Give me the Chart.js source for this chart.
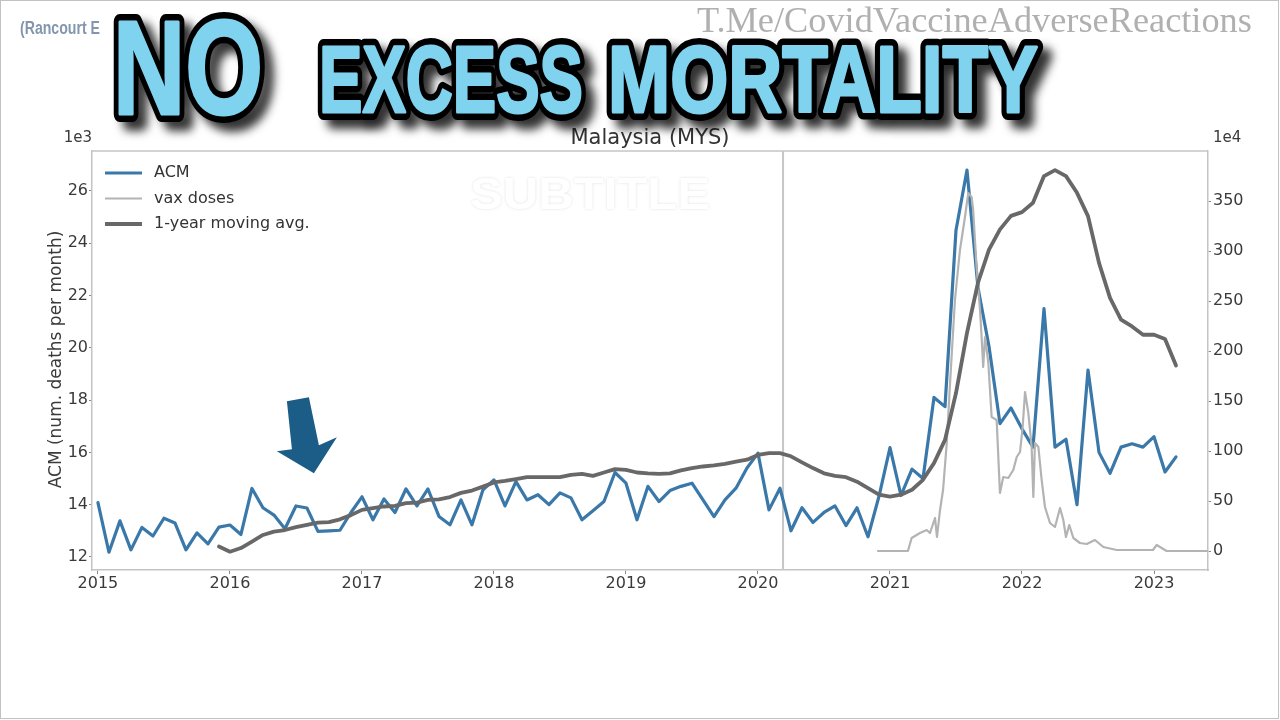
<!DOCTYPE html>
<html>
<head>
<meta charset="utf-8">
<script src="https://cdn.jsdelivr.net/npm/chart.js@4.4.0/dist/chart.umd.min.js"></script>
<style>
  html, body { margin: 0; padding: 0; background: #fff; }
  #wrap { position: relative; width: 1280px; height: 720px; overflow: hidden; }
  #chart, #over { position: absolute; left: 0; top: 0; }
  #frame { position: absolute; left: 0; top: 0; width: 1277px; height: 717px; border: 1.5px solid #c2c2c2; pointer-events: none; }
  .txt { position: absolute; white-space: nowrap; line-height: 1; transform-origin: 0 0; }
  #wm { font-family: "Liberation Serif", "DejaVu Serif", serif; font-size: 35px; color: #b0b0b0; left: 697px; top: 3px; }
  #ranc { font-family: "Liberation Sans", Arial, sans-serif; font-weight: bold; font-size: 18px; color: #8496ad; left: 20px; top: 19px; }
  #sub { font-family: "Liberation Sans", Arial, sans-serif; font-weight: bold; font-size: 44px; color: #fff; left: 470px; top: 172px; text-shadow: 0 0 3px rgba(0,0,0,0.12); }
</style>
</head>
<body>
<div id="wrap">
  <canvas id="chart" width="1280" height="720"></canvas>
  <div id="sub" class="txt">SUBTITLE</div>
  <div id="ranc" class="txt">(Rancourt E</div>
  <div id="wm" class="txt">T.Me/CovidVaccineAdverseReactions</div>
  <canvas id="over" width="1280" height="720"></canvas>
  <div id="frame"></div>
</div>
<script>
// monthly all-cause mortality (thousands), Jan 2015 .. Mar 2023
const acmStartYear = 2015;
const acmValues = [
  14.08, 12.18, 13.38, 12.27, 13.13, 12.8, 13.48, 13.3, 12.27, 12.92, 12.5, 13.14,
  13.22, 12.86, 14.62, 13.88, 13.6, 13.08, 13.95, 13.87, 12.98, 13.0, 13.02, 13.7,
  14.3, 13.42, 14.22, 13.7, 14.6, 13.95, 14.6, 13.55, 13.23, 14.18, 13.23, 14.57,
  14.95, 13.95, 14.88, 14.18, 14.38, 14.0, 14.45, 14.26, 13.42, 13.77, 14.12, 15.23,
  14.82, 13.42, 14.7, 14.12, 14.54, 14.7, 14.82, 14.18, 13.54, 14.18, 14.63, 15.4,
  15.97, 13.8, 14.63, 13.0, 13.88, 13.32, 13.7, 13.95, 13.2, 13.88, 12.77, 14.32,
  16.18, 14.35, 15.36, 15.0, 18.1, 17.75, 24.5, 26.8, 22.3, 20.05, 17.1, 17.7,
  16.9, 16.2, 21.5, 16.2, 16.5, 14.0, 19.15, 16.0, 15.2, 16.2, 16.33, 16.2,
  16.6, 15.25, 15.83
];

// 1-year moving average (as drawn), Dec 2015 .. Mar 2023
const maStartMonth = 11; // months after Jan 2015
const maValues = [
  12.4,
  12.2, 12.34, 12.59, 12.84, 12.97, 13.03, 13.14, 13.23, 13.31, 13.33, 13.44, 13.6,
  13.8, 13.87, 13.93, 13.95, 14.06, 14.08, 14.18, 14.2, 14.29, 14.45, 14.54, 14.69,
  14.85, 14.91, 14.98, 15.05, 15.05, 15.05, 15.05, 15.14, 15.18, 15.1, 15.23, 15.36,
  15.33, 15.23, 15.2, 15.18, 15.2, 15.31, 15.4, 15.46, 15.5, 15.56, 15.65, 15.72,
  15.9, 15.97, 15.97, 15.85, 15.62, 15.4, 15.2, 15.1, 15.05, 14.88, 14.63, 14.38,
  14.31, 14.38, 14.57, 14.95, 15.59, 16.48, 18.27, 20.57, 22.49, 23.76, 24.53, 25.05,
  25.19, 25.55, 26.57, 26.8, 26.57, 25.93, 25.04, 23.25, 21.91, 21.08, 20.82, 20.5,
  20.5, 20.34, 19.32
];

// vaccine doses (x 1e4), right axis
const vaxYears = [
  2020.909, 2021.136, 2021.164, 2021.227, 2021.278, 2021.303, 2021.341, 2021.356, 2021.379, 2021.402,
  2021.430, 2021.455, 2021.492, 2021.530, 2021.568, 2021.593, 2021.618, 2021.630, 2021.656, 2021.682,
  2021.694, 2021.706, 2021.720, 2021.745, 2021.770, 2021.808, 2021.833, 2021.858, 2021.896, 2021.934,
  2021.960, 2021.985, 2022.005, 2022.023, 2022.048, 2022.073, 2022.086, 2022.098, 2022.124, 2022.149,
  2022.174, 2022.212, 2022.250, 2022.288, 2022.313, 2022.333, 2022.358, 2022.389, 2022.439, 2022.490,
  2022.553, 2022.616, 2022.717, 2022.864, 2022.992, 2023.020, 2023.096, 2023.400
];
const vaxDoses = [
  0, 0, 13, 18, 21, 18, 33, 14, 41, 61,
  108, 168, 251, 301, 334, 358, 354, 341, 284, 241,
  214, 184, 214, 188, 134, 131, 58, 74, 73, 81,
  94, 99, 124, 159, 138, 104, 54, 108, 104, 71,
  44, 28, 24, 43, 31, 14, 26, 13, 8, 7,
  11, 4, 1, 1, 1, 6, 0, 0
];

const yearTicks = [2015, 2016, 2017, 2018, 2019, 2020, 2021, 2022, 2023];
const leftTicks = [12, 14, 16, 18, 20, 22, 24, 26];
const rightTicks = [0, 50, 100, 150, 200, 250, 300, 350];
const markerYear = 2020.19;
const chartTitle = 'Malaysia (MYS)';
const yLabel = 'ACM (num. deaths per month)';
const arrowTip = { x: 2016.636, y: 15.2 };

const acmPoints = acmValues.map((v, i) => ({ x: acmStartYear + i / 12, y: v }));
const maPoints = maValues.map((v, i) => ({ x: acmStartYear + (maStartMonth + i) / 12, y: v }));
const vaxPoints = vaxDoses.map((v, i) => ({ x: vaxYears[i], y: v }));

const tickFont = { family: 'DejaVu Sans', size: 16 };
const tickColor = '#3a3a3a';
const spine = '#c4c4c4';

const decor = {
  id: 'decor',
  beforeDatasetsDraw(chart) {
    const { ctx, chartArea: a, scales } = chart;
    ctx.save();
    ctx.strokeStyle = spine;
    ctx.lineWidth = 1.5;
    ctx.beginPath();
    ctx.moveTo(a.left, a.top);
    ctx.lineTo(a.right, a.top);
    ctx.stroke();
    const vx = scales.x.getPixelForValue(markerYear);
    ctx.strokeStyle = '#c6c6c6';
    ctx.lineWidth = 2;
    ctx.beginPath();
    ctx.moveTo(vx, a.top);
    ctx.lineTo(vx, a.bottom);
    ctx.stroke();
    ctx.restore();
  },
  afterDraw(chart) {
    const { ctx, chartArea: a, scales } = chart;
    ctx.save();
    ctx.fillStyle = '#333';
    ctx.font = '21px "DejaVu Sans"';
    ctx.textAlign = 'center';
    ctx.textBaseline = 'middle';
    ctx.fillText(chartTitle, (a.left + a.right) / 2, 139);

    ctx.font = '15px "DejaVu Sans"';
    ctx.fillStyle = tickColor;
    ctx.textAlign = 'right';
    ctx.fillText('1e3', a.left, 138);
    ctx.textAlign = 'left';
    ctx.fillText('1e4', a.right + 5, 138);

    ctx.save();
    ctx.translate(57, (a.top + a.bottom) / 2 - 1);
    ctx.rotate(-Math.PI / 2);
    ctx.textAlign = 'center';
    ctx.font = '17px "DejaVu Sans"';
    ctx.fillText(yLabel, 0, 0);
    ctx.restore();

    // legend
    const items = [0, 1, 2].map(i => chart.data.datasets[i]);
    ctx.font = '16px "DejaVu Sans"';
    ctx.textAlign = 'left';
    ctx.lineCap = 'butt';
    items.forEach((ds, i) => {
      const y = a.top + 22 + i * 25.5;
      ctx.strokeStyle = ds.borderColor;
      ctx.lineWidth = ds.borderWidth;
      ctx.beginPath();
      ctx.moveTo(a.left + 13, y);
      ctx.lineTo(a.left + 50, y);
      ctx.stroke();
      ctx.fillStyle = '#333';
      ctx.fillText(ds.label, a.left + 62, y);
    });

    // arrow annotation
    const tx = scales.x.getPixelForValue(arrowTip.x);
    const ty = scales.y.getPixelForValue(arrowTip.y);
    const shape = [[-27, -72], [-5, -76], [5, -28], [23, -36], [0, 0], [-37, -22], [-22, -24]];
    ctx.fillStyle = '#1b5d87';
    ctx.beginPath();
    shape.forEach(([dx, dy], i) => i ? ctx.lineTo(tx + dx, ty + dy) : ctx.moveTo(tx + dx, ty + dy));
    ctx.closePath();
    ctx.fill();
    ctx.restore();
  }
};

new Chart(document.getElementById('chart'), {
  type: 'line',
  data: {
    datasets: [
      { label: 'ACM', data: acmPoints, yAxisID: 'y', borderColor: '#3a78a9', borderWidth: 3.2, order: 3 },
      { label: 'vax doses', data: vaxPoints, yAxisID: 'y2', borderColor: '#b3b3b3', borderWidth: 2.2, order: 2 },
      { label: '1-year moving avg.', data: maPoints, yAxisID: 'y', borderColor: '#686868', borderWidth: 3.8, order: 1 }
    ]
  },
  options: {
    responsive: false,
    animation: false,
    parsing: false,
    layout: { padding: { left: 0, right: 0, top: 151, bottom: 0 } },
    elements: {
      point: { radius: 0 },
      line: { tension: 0, borderJoinStyle: 'round', borderCapStyle: 'round', fill: false }
    },
    plugins: { legend: { display: false }, tooltip: { enabled: false }, title: { display: false } },
    scales: {
      x: {
        type: 'linear', min: 2014.955, max: 2023.409,
        afterBuildTicks: s => { s.ticks = yearTicks.map(v => ({ value: v })); },
        afterFit: s => { s.height = 150; },
        grid: { drawOnChartArea: false, drawTicks: true, tickLength: 4, color: '#888' },
        border: { color: spine, width: 1.5 },
        ticks: { font: tickFont, color: tickColor, padding: 0, maxRotation: 0, callback: v => String(v) }
      },
      y: {
        type: 'linear', position: 'left', min: 11.5, max: 27.53,
        afterBuildTicks: s => { s.ticks = leftTicks.map(v => ({ value: v })); },
        afterFit: s => { s.width = 92; },
        grid: { drawOnChartArea: false, drawTicks: true, tickLength: 3, color: '#888' },
        border: { color: spine, width: 1.5 },
        ticks: { font: tickFont, color: tickColor, padding: 1, callback: v => String(v) }
      },
      y2: {
        type: 'linear', position: 'right', min: -19, max: 400,
        afterBuildTicks: s => { s.ticks = rightTicks.map(v => ({ value: v })); },
        afterFit: s => { s.width = 72; },
        grid: { drawOnChartArea: false, drawTicks: true, tickLength: 3, color: '#888' },
        border: { color: spine, width: 1.5 },
        ticks: { font: tickFont, color: tickColor, padding: 2, callback: v => String(v) }
      }
    }
  },
  plugins: [decor]
});

// stretch the small overlay texts to the widths they take in the picture
function fit(id, w) {
  const el = document.getElementById(id);
  el.style.transform = 'scaleX(' + (w / el.offsetWidth) + ')';
}
fit('wm', 555);
fit('ranc', 80);
fit('sub', 240);

// big headline: black round-joined outline with drop shadow, light blue fill
const octx = document.getElementById('over').getContext('2d');
function headline(text, x, base, size, width) {
  octx.save();
  octx.font = 'bold ' + size + 'px "Liberation Sans", Arial, sans-serif';
  const s = width / octx.measureText(text).width;
  octx.translate(x, base);
  octx.scale(s, 1);
  octx.lineJoin = 'round';
  octx.shadowColor = 'rgba(0,0,0,0.8)';
  octx.shadowOffsetX = 9;
  octx.shadowOffsetY = 9;
  octx.shadowBlur = 10;
  octx.strokeStyle = '#000';
  octx.lineWidth = 16;
  octx.strokeText(text, 0, 0);
  octx.shadowColor = 'transparent';
  octx.fillStyle = '#80d3ef';
  octx.strokeStyle = '#80d3ef';
  octx.lineWidth = 3;
  octx.strokeText(text, 0, 0);
  octx.fillText(text, 0, 0);
  octx.restore();
}
headline('NO', 113, 114, 134, 150);
headline('EXCESS', 319, 112, 94, 264);
headline('MORTALITY', 608, 112, 94, 430);
</script>
</body>
</html>
